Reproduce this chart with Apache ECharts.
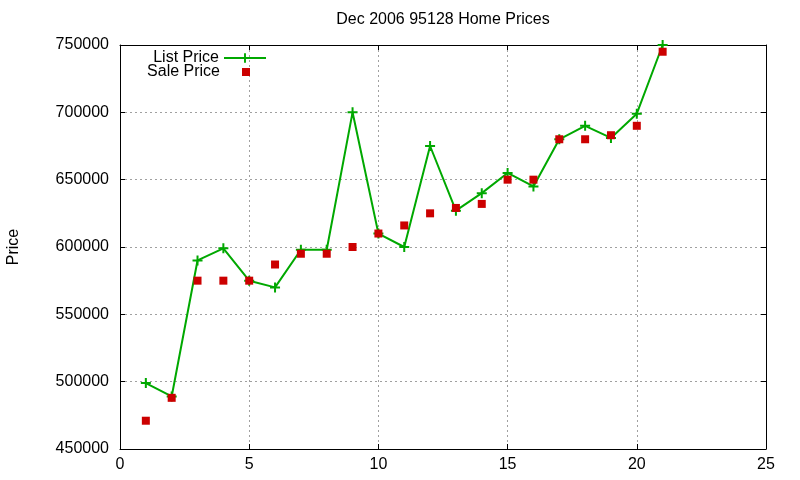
<!DOCTYPE html>
<html><head><meta charset="utf-8">
<script src="https://cdn.jsdelivr.net/npm/echarts@6/dist/echarts.min.js"></script>
<style>html,body{margin:0;padding:0;background:#fff}#c{width:800px;height:480px}</style>
</head><body><div id="c"></div><script>
const months = [1,2,3,4,5,6,7,8,9,10,11,12,13,14,15,16,17,18,19,20,21];
const listPrice = [499000,489000,590000,599000,575000,570000,598000,598000,700000,610000,600000,675000,627000,640000,655000,645000,680000,690000,681000,699000,750000];
const salePrice = [471000,488000,575000,575000,575000,587000,595000,595000,600000,610000,616000,625000,629000,632000,650000,650000,680000,680000,683000,690000,745000];
const titleText = 'Dec 2006 95128 Home Prices';
const yName = 'Price';
const seriesNames = ['List Price','Sale Price'];

const FONT = '"Liberation Sans", Arial, sans-serif';
const GREEN = '#00a800';
const RED = '#cc0000';
const axisCommon = {
  axisLine:{show:true, onZero:false, lineStyle:{color:'#000', width:1}},
  axisTick:{show:true, inside:true, length:5, lineStyle:{color:'#000', width:1}},
};
const chart = echarts.init(document.getElementById('c'), null, {renderer:'canvas'});
chart.setOption({
  animation:false,
  backgroundColor:'#fff',
  title:{text:titleText, left:443, top:12, textAlign:'center', padding:0,
    textStyle:{fontFamily:FONT, fontSize:16, fontWeight:'normal', color:'#000'}},
  grid:{left:120, right:34, top:45, bottom:31, containLabel:false, outerBoundsMode:'none'},
  legend:[
    {data:[seriesNames[0]], right:533, top:50, padding:0, itemWidth:42, itemHeight:12, align:'right', selectedMode:false,
      textStyle:{fontFamily:FONT, fontSize:16, color:'#000'}},
    {data:[{name:seriesNames[1], icon:'path://M0,0M42,14M17,3H25V11H17Z'}], right:533, top:64, padding:0, itemWidth:42, itemHeight:14, align:'right', selectedMode:false,
      textStyle:{fontFamily:FONT, fontSize:16, color:'#000'}}
  ],
  xAxis:[
    Object.assign({type:'value', min:0, max:25, interval:5, position:'bottom',
      axisLabel:{color:'#000', fontFamily:FONT, fontSize:16, margin:8},
      splitLine:{show:true, lineStyle:{color:'#a0a0a0', type:[2,3], width:1}}}, axisCommon),
    Object.assign({type:'value', min:0, max:25, interval:5, position:'top',
      axisLabel:{show:false}, splitLine:{show:false}}, axisCommon)
  ],
  yAxis:[
    Object.assign({type:'value', min:450000, max:750000, interval:50000, position:'left',
      name:yName, nameLocation:'middle', nameRotate:90, nameGap:98,
      nameTextStyle:{fontFamily:FONT, fontSize:16, color:'#000'},
      axisLabel:{color:'#000', fontFamily:FONT, fontSize:16, margin:11, formatter:(v)=>String(v)},
      splitLine:{show:true, lineStyle:{color:'#a0a0a0', type:[2,3], width:1}}}, axisCommon),
    Object.assign({type:'value', min:450000, max:750000, interval:50000, position:'right',
      axisLabel:{show:false}, splitLine:{show:false}}, axisCommon)
  ],
  series:[
    {name:seriesNames[0], type:'line', xAxisIndex:0, yAxisIndex:0,
      data:months.map((m,i)=>[m, listPrice[i]]),
      symbol:'path://M4,0H6V4H10V6H6V10H4V6H0V4H4Z', symbolSize:10, showAllSymbol:true,
      lineStyle:{color:GREEN, width:2}, itemStyle:{color:GREEN, borderWidth:0, opacity:1}, z:2},
    {name:seriesNames[1], type:'scatter', xAxisIndex:0, yAxisIndex:0,
      data:months.map((m,i)=>[m, salePrice[i]]),
      symbol:'rect', symbolSize:8, itemStyle:{color:RED, borderWidth:0, opacity:1}, z:3}
  ]
});
</script></body></html>
